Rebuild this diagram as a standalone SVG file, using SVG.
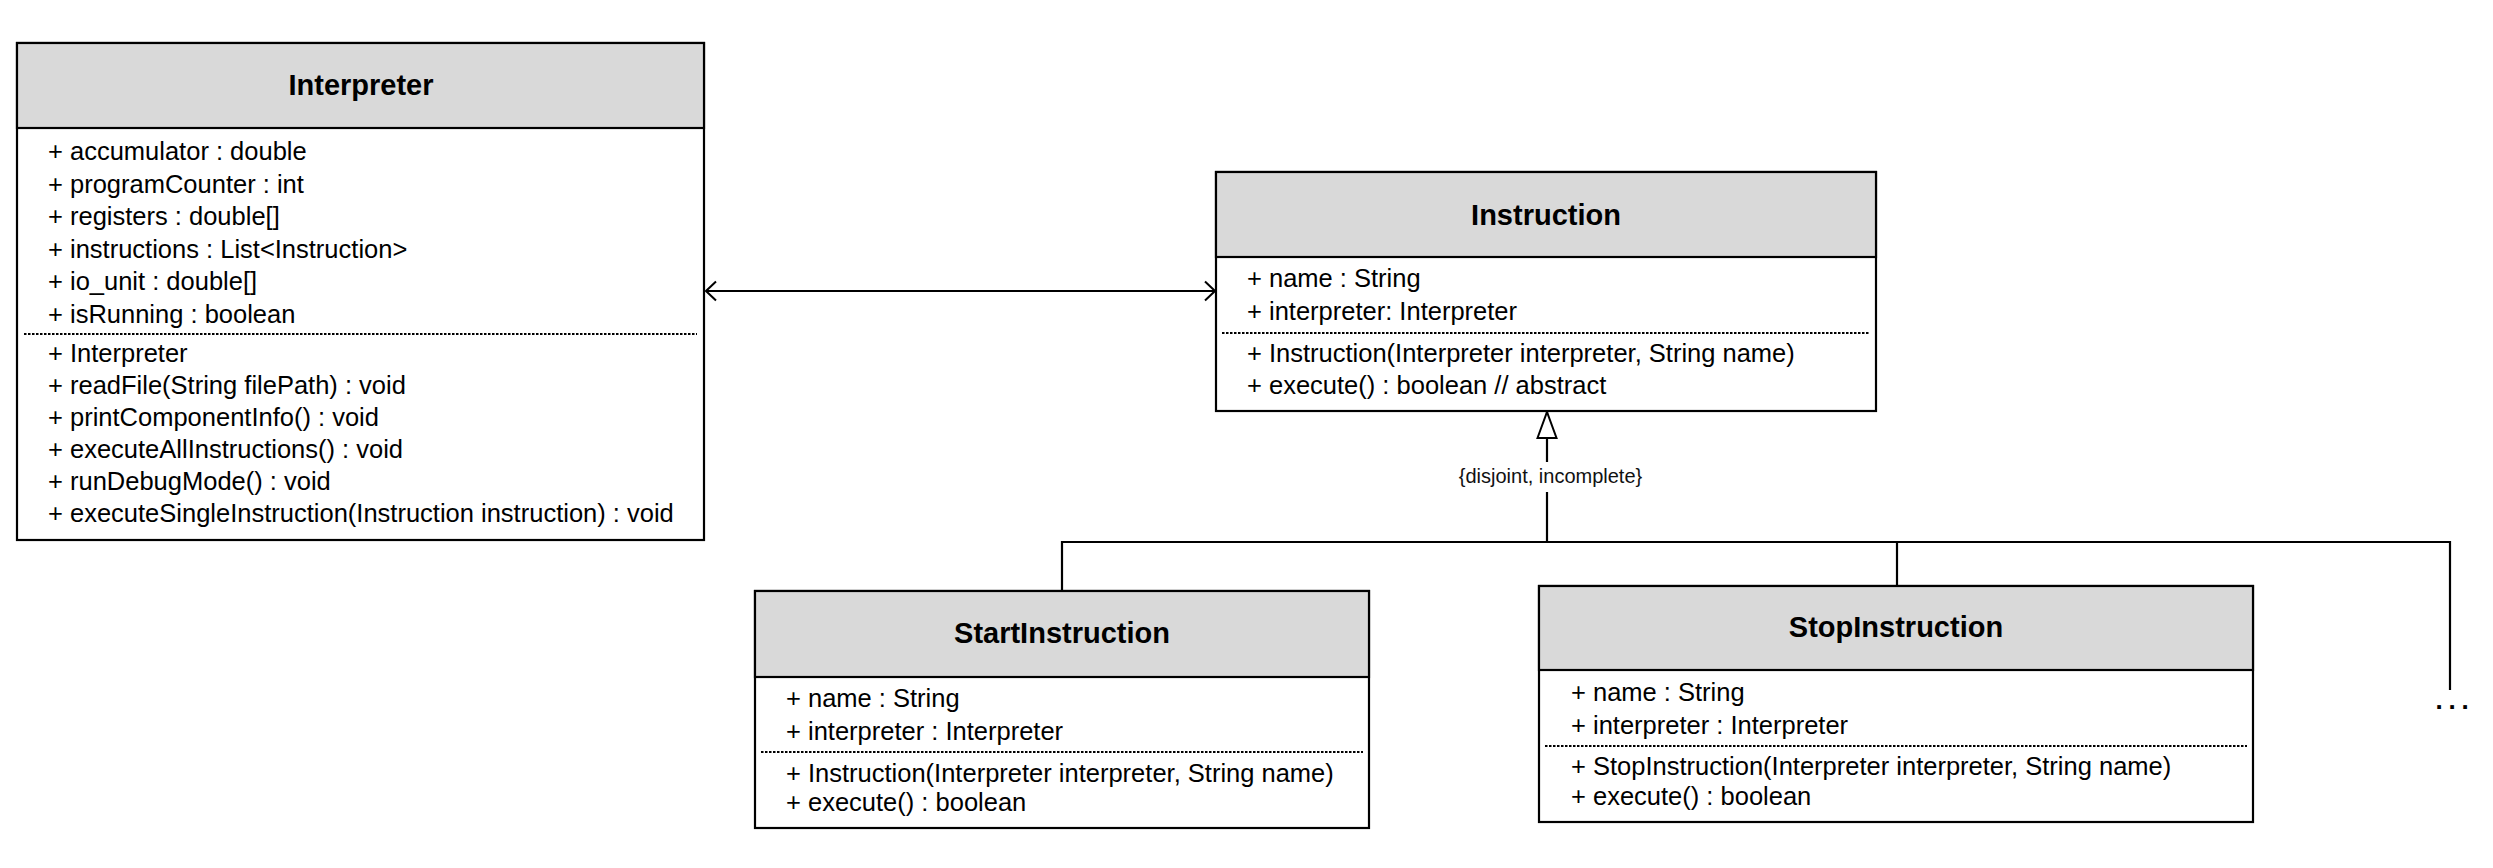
<svg xmlns="http://www.w3.org/2000/svg" width="2493" height="868" viewBox="0 0 2493 868">
<style>
  .box { fill: #ffffff; stroke: #000000; stroke-width: 2.2; }
  .head { fill: #d9d9d9; stroke: #000000; stroke-width: 2.2; }
  .title { font-family: "Liberation Sans", Arial, sans-serif; font-size: 29px; font-weight: bold; fill: #000000; text-anchor: middle; }
  .t { font-family: "Liberation Sans", Arial, sans-serif; font-size: 25.5px; fill: #000000; }
  .sep { stroke: #000000; stroke-width: 2; stroke-dasharray: 2.5 1.5; fill: none; }
  .line { stroke: #000000; stroke-width: 2.2; fill: none; }
  .lbl { font-family: "Liberation Sans", Arial, sans-serif; font-size: 20px; fill: #111111; text-anchor: middle; }
  .dots { font-family: "Liberation Sans", Arial, sans-serif; font-size: 26px; font-weight: bold; fill: #000000; letter-spacing: 5.8px; }
</style>
<defs>
  <marker id="open" viewBox="0 0 12 22" refX="11" refY="11" markerWidth="12" markerHeight="22" markerUnits="userSpaceOnUse" orient="auto-start-reverse">
    <path d="M1,1.5 L11,11 L1,20.5" fill="none" stroke="#000000" stroke-width="2"/>
  </marker>
  <marker id="tri" viewBox="0 0 30 22" refX="28" refY="11" markerWidth="30" markerHeight="22" markerUnits="userSpaceOnUse" orient="auto">
    <path d="M2,1.5 L28,11 L2,20.5 Z" fill="#ffffff" stroke="#000000" stroke-width="2"/>
  </marker>
</defs>
<rect width="2493" height="868" fill="#ffffff"/>

<g id="connectors">
  <line class="line" x1="706" y1="291" x2="1215" y2="291" marker-start="url(#open)" marker-end="url(#open)"/>
  <line class="line" x1="1547" y1="542" x2="1547" y2="492"/>
  <line class="line" x1="1547" y1="462" x2="1547" y2="412" marker-end="url(#tri)"/>
  <text class="lbl" x="1550.5" y="483">{disjoint, incomplete}</text>
  <polyline class="line" points="1062,591 1062,542 2450,542 2450,690"/>
  <line class="line" x1="1897" y1="542" x2="1897" y2="586"/>
  <text class="dots" x="2435.5" y="709">...</text>
</g>

<g id="Interpreter">
  <rect class="box" x="17" y="43" width="687" height="497"/>
  <rect class="head" x="17" y="43" width="687" height="85"/>
  <text class="title" x="361" y="95">Interpreter</text>
  <text class="t" x="48" y="160">+ accumulator : double</text>
  <text class="t" x="48" y="192.5">+ programCounter : int</text>
  <text class="t" x="48" y="225">+ registers : double[]</text>
  <text class="t" x="48" y="257.5">+ instructions : List&lt;Instruction&gt;</text>
  <text class="t" x="48" y="290">+ io_unit : double[]</text>
  <text class="t" x="48" y="322.5">+ isRunning : boolean</text>
  <line class="sep" x1="24" y1="334" x2="697" y2="334"/>
  <text class="t" x="48" y="362">+ Interpreter</text>
  <text class="t" x="48" y="394">+ readFile(String filePath) : void</text>
  <text class="t" x="48" y="426">+ printComponentInfo() : void</text>
  <text class="t" x="48" y="458">+ executeAllInstructions() : void</text>
  <text class="t" x="48" y="490">+ runDebugMode() : void</text>
  <text class="t" x="48" y="522">+ executeSingleInstruction(Instruction instruction) : void</text>
</g>

<g id="Instruction">
  <rect class="box" x="1216" y="172" width="660" height="239"/>
  <rect class="head" x="1216" y="172" width="660" height="85"/>
  <text class="title" x="1546" y="225">Instruction</text>
  <text class="t" x="1247" y="287">+ name : String</text>
  <text class="t" x="1247" y="319.5">+ interpreter: Interpreter</text>
  <line class="sep" x1="1222" y1="333" x2="1870" y2="333"/>
  <text class="t" x="1247" y="362">+ Instruction(Interpreter interpreter, String name)</text>
  <text class="t" x="1247" y="394">+ execute() : boolean // abstract</text>
</g>

<g id="StartInstruction">
  <rect class="box" x="755" y="591" width="614" height="237"/>
  <rect class="head" x="755" y="591" width="614" height="86"/>
  <text class="title" x="1062" y="643">StartInstruction</text>
  <text class="t" x="786" y="706.5">+ name : String</text>
  <text class="t" x="786" y="739.5">+ interpreter : Interpreter</text>
  <line class="sep" x1="761" y1="752" x2="1363" y2="752"/>
  <text class="t" x="786" y="782">+ Instruction(Interpreter interpreter, String name)</text>
  <text class="t" x="786" y="811">+ execute() : boolean</text>
</g>

<g id="StopInstruction">
  <rect class="box" x="1539" y="586" width="714" height="236"/>
  <rect class="head" x="1539" y="586" width="714" height="84"/>
  <text class="title" x="1896" y="637">StopInstruction</text>
  <text class="t" x="1571" y="701">+ name : String</text>
  <text class="t" x="1571" y="734">+ interpreter : Interpreter</text>
  <line class="sep" x1="1545" y1="746" x2="2247" y2="746"/>
  <text class="t" x="1571" y="775">+ StopInstruction(Interpreter interpreter, String name)</text>
  <text class="t" x="1571" y="805">+ execute() : boolean</text>
</g>
</svg>
